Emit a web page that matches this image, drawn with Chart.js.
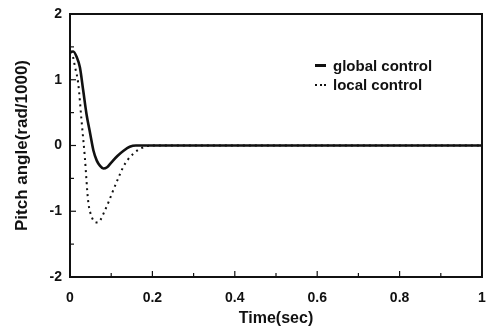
<!DOCTYPE html>
<html>
<head>
  <meta charset="UTF-8">
  <title>Pitch angle response</title>
  <script src="https://cdn.jsdelivr.net/npm/chart.js"></script>
  <style>
    body {
      margin: 0;
      background: #fff;
      font-family: "Liberation Sans", Arial, sans-serif;
    }

    #wrap {
      position: relative;
      width: 488px;
      height: 335px;
    }

    #legend {
      position: absolute;
      left: 315px;
      top: 56px;
      font-weight: bold;
      font-size: 15px;
      color: #111;
    }

    .row {
      display: flex;
      align-items: center;
      height: 19px;
    }

    .swatch {
      width: 11px;
      margin-right: 7px;
      border-top: 3px solid #111;
    }

    .swatch.dotted {
      border-top: 2px dotted #111;
    }
  </style>
</head>
<body>
  <div id="wrap">
    <canvas id="chart" width="488" height="335"></canvas>
    <div id="legend"></div>
  </div>

  <script>
    const seriesNames = ["global control", "local control"];

    const timeGlobal = [0, 0.008, 0.016, 0.024, 0.032, 0.04, 0.049, 0.057, 0.065, 0.073, 0.081,
                        0.09, 0.1, 0.115, 0.13, 0.145, 0.16, 0.2, 0.4, 0.6, 0.8, 1];
    const pitchGlobal = [1.42, 1.43, 1.35, 1.19, 0.84, 0.48, 0.18, -0.08, -0.23, -0.31, -0.35,
                         -0.33, -0.26, -0.16, -0.08, -0.02, 0, 0, 0, 0, 0, 0];

    const timeLocal = [0, 0.006, 0.012, 0.02, 0.028, 0.036, 0.044, 0.053, 0.06, 0.067, 0.075,
                       0.081, 0.093, 0.105, 0.117, 0.129, 0.141, 0.153, 0.167, 0.182, 0.195, 1];
    const pitchLocal = [1.42, 1.38, 1.2, 0.94, 0.38, -0.18, -0.84, -1.09, -1.16, -1.17, -1.12,
                        -1.04, -0.87, -0.68, -0.5, -0.33, -0.21, -0.13, -0.06, -0.02, 0, 0];

    const xTicks = [0, 0.2, 0.4, 0.6, 0.8, 1];
    const yTicks = [-2, -1, 0, 1, 2];

    const toPoints = (xs, ys) => xs.map((x, i) => ({ x: x, y: ys[i] }));

    // inner tick marks plus the box round the plot area
    const frame = {
      id: "frame",
      afterDraw(chart) {
        const { ctx, chartArea: a, scales } = chart;
        ctx.save();
        ctx.strokeStyle = "#111";
        ctx.lineWidth = 2;
        ctx.strokeRect(a.left, a.top, a.right - a.left, a.bottom - a.top);
        ctx.lineWidth = 1.2;
        for (let i = 0; i <= 10; i++) {
          const px = scales.x.getPixelForValue(i / 10);
          const len = i % 2 === 0 ? 6 : 4;
          ctx.beginPath();
          ctx.moveTo(px, a.bottom);
          ctx.lineTo(px, a.bottom - len);
          ctx.stroke();
        }
        for (let i = 0; i <= 8; i++) {
          const py = scales.y.getPixelForValue(-2 + i / 2);
          const len = i % 2 === 0 ? 6 : 4;
          ctx.beginPath();
          ctx.moveTo(a.left, py);
          ctx.lineTo(a.left + len, py);
          ctx.stroke();
        }
        ctx.restore();
      }
    };

    const tickFont = { family: "Liberation Sans", size: 14, weight: "bold" };

    new Chart(document.getElementById("chart"), {
      type: "line",
      data: {
        datasets: [
          {
            label: seriesNames[0],
            data: toPoints(timeGlobal, pitchGlobal),
            borderColor: "#111",
            borderWidth: 2.6,
            pointRadius: 0,
            cubicInterpolationMode: "monotone"
          },
          {
            label: seriesNames[1],
            data: toPoints(timeLocal, pitchLocal),
            borderColor: "#111",
            borderWidth: 2,
            borderDash: [2, 4],
            pointRadius: 0,
            cubicInterpolationMode: "monotone"
          }
        ]
      },
      options: {
        responsive: false,
        animation: false,
        layout: { padding: { top: 14, right: 6, left: 0, bottom: 0 } },
        plugins: {
          legend: { display: false },
          tooltip: { enabled: false }
        },
        scales: {
          x: {
            type: "linear",
            min: 0,
            max: 1,
            afterFit: s => {
              s.height = 58;
              s.paddingLeft = 0;
              s.paddingRight = 0;
            },
            afterBuildTicks: s => { s.ticks = xTicks.map(v => ({ value: v })); },
            grid: { display: false },
            border: { display: false },
            ticks: {
              color: "#111",
              font: tickFont,
              padding: 5,
              maxRotation: 0,
              callback: v => String(v)
            },
            title: {
              display: true,
              text: "Time(sec)",
              color: "#111",
              font: { family: "Liberation Sans", size: 16, weight: "bold" },
              padding: { top: 7, bottom: 7 }
            }
          },
          y: {
            min: -2,
            max: 2,
            afterFit: s => {
              s.width = 70;
              s.paddingTop = 0;
              s.paddingBottom = 0;
            },
            afterBuildTicks: s => { s.ticks = yTicks.map(v => ({ value: v })); },
            grid: { display: false },
            border: { display: false },
            ticks: {
              color: "#111",
              font: tickFont,
              padding: 0,
              callback: v => String(v)
            },
            title: {
              display: true,
              text: "Pitch angle(rad/1000)",
              color: "#111",
              font: { family: "Liberation Sans", size: 17, weight: "bold" },
              padding: { top: 12, bottom: 12 }
            }
          }
        }
      },
      plugins: [frame]
    });

    document.getElementById("legend").innerHTML = seriesNames.map((name, i) =>
      `<div class="row"><span class="swatch${i ? " dotted" : ""}"></span>${name}</div>`
    ).join("");
  </script>
</body>
</html>
